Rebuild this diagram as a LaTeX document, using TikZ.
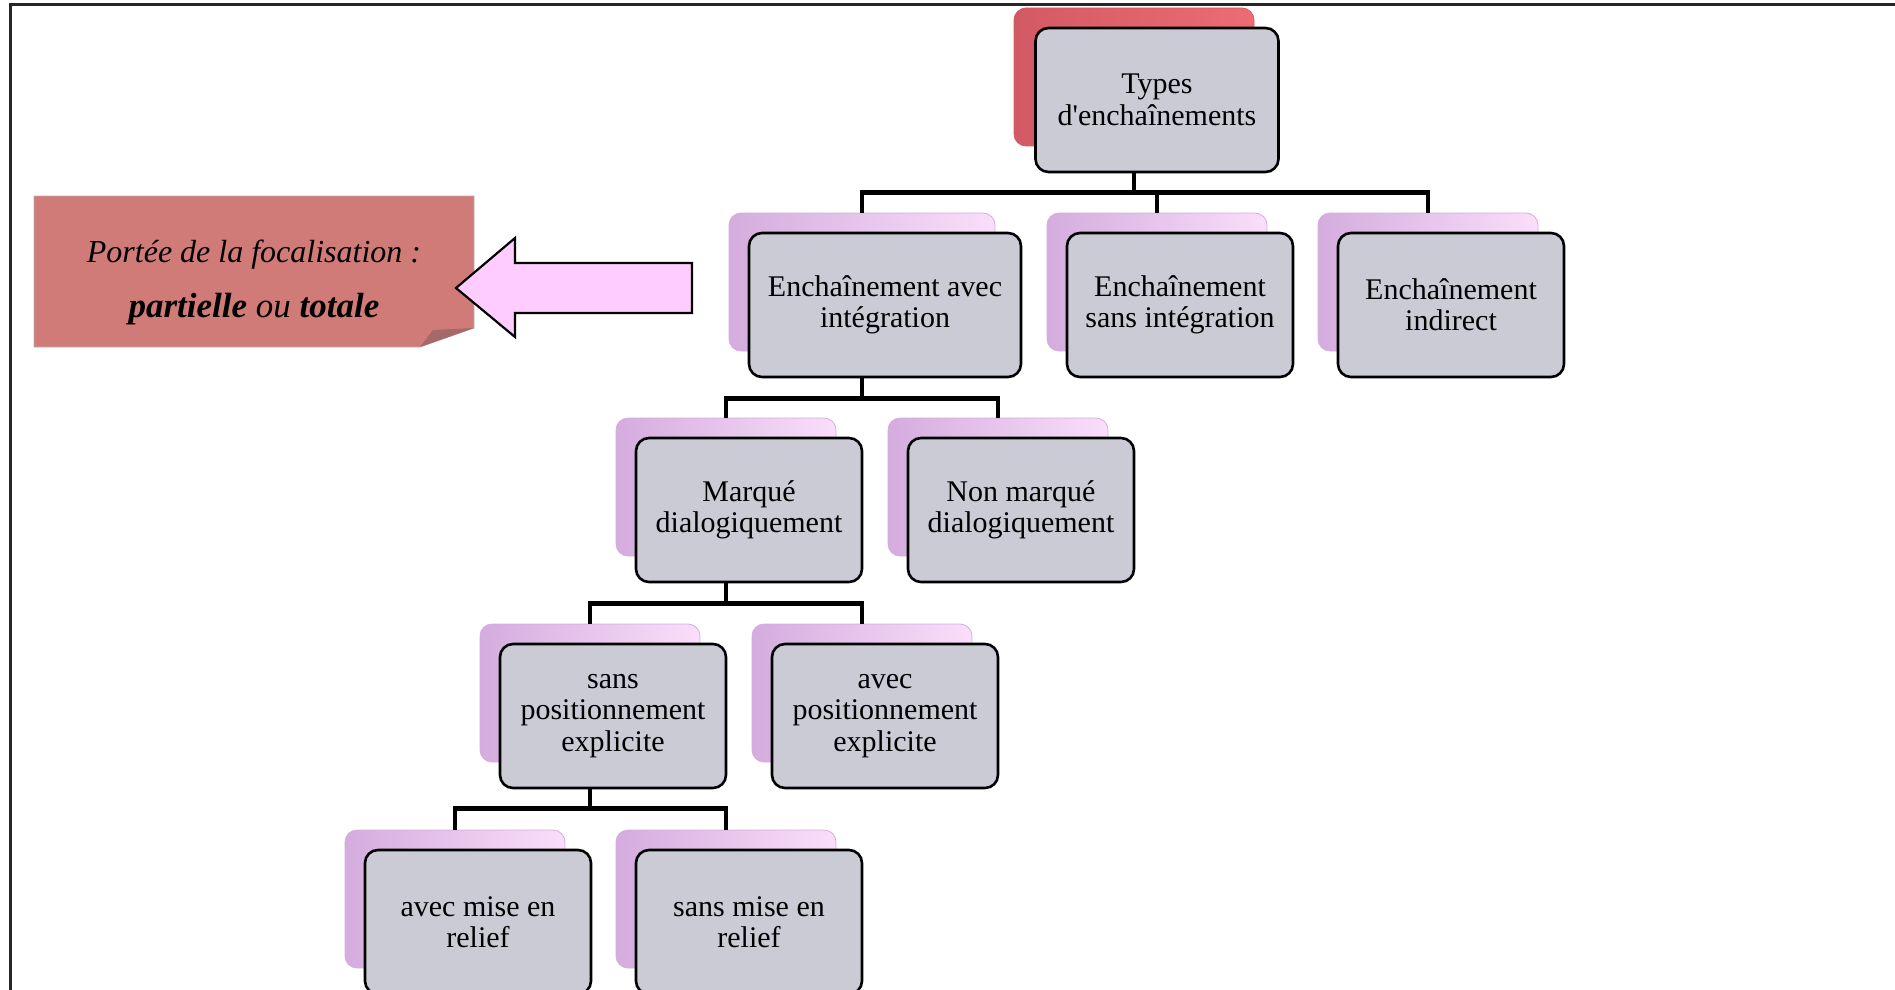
\documentclass[tikz,border=0pt]{standalone}
\usepackage{fontspec}
\setmainfont{Liberation Serif}
\usepackage{tikz}

\definecolor{boxgray}{RGB}{203,203,214}
\definecolor{pinklight}{RGB}{250,222,250}
\definecolor{pinkdark}{RGB}{212,172,222}
\definecolor{redlight}{RGB}{236,108,114}
\definecolor{reddark}{RGB}{210,90,100}
\definecolor{notered}{RGB}{208,123,120}
\definecolor{notefold}{RGB}{166,104,104}
\definecolor{arrowpink}{RGB}{255,204,255}

\begin{document}
\begin{tikzpicture}[x=0.5pt, y=-0.5pt,
    mainbox/.style={draw=black, line width=1.3pt, fill=boxgray, rounded corners=6.5pt,
      inner sep=0pt, minimum height=72pt, align=center,
      font=\fontsize{15}{15.7}\selectfont},
    backbox/.style={rounded corners=6pt, inner sep=0pt, minimum height=69pt,
      left color=pinkdark, right color=pinklight, draw=pinkdark},
    redback/.style={backbox, left color=reddark, right color=redlight, draw=reddark},
    link/.style={line width=2.25pt}]

    \useasboundingbox (0,0) rectangle (1895,990);

    \draw[line width=1.5pt, black!85] (1895,5) -- (10,5) -- (10,990);


    \fill[notered, draw=black!30, line width=0.4pt] (34,196) -- (474,196) -- (474,328) -- (420,347) -- (34,347) -- cycle;

    \fill[notefold] (420,347) -- (433,330) -- (474,328) -- cycle;

    \node[font=\fontsize{16}{27.5}\selectfont\itshape, align=center] (note) at (254,282)
      {Portée de la focalisation :\\{\fontsize{17.5}{27.5}\selectfont\textbf{partielle} ou \textbf{totale}}};

    \draw[fill=arrowpink, line width=1.1pt] (456,288) -- (515,238) -- (515,263) -- (692,263)
      -- (692,313) -- (515,313) -- (515,337) -- cycle;


    \node[redback, minimum width=120pt] (typesbg) at (1134,77) {};

    \node[mainbox, minimum width=121.5pt] (types) at (1157,100) {Types\\d\textquotesingle enchaînements};


    \node[backbox, minimum width=133pt] (integbg) at (862,282) {};

    \node[mainbox, minimum width=136pt] (integ) at (885,305) {Enchaînement avec\\intégration};

    \node[backbox, minimum width=110pt] (sansintbg) at (1157,282) {};

    \node[mainbox, minimum width=113pt] (sansint) at (1180,305) {Enchaînement\\sans intégration};

    \node[backbox, minimum width=110pt] (indirectbg) at (1428,282) {};

    \node[mainbox, minimum width=113pt] (indirect) at (1451,305) {Enchaînement\\indirect};


    \node[backbox, minimum width=110pt] (marquebg) at (726,487) {};

    \node[mainbox, minimum width=113pt] (marque) at (749,510) {Marqué\\dialogiquement};

    \node[backbox, minimum width=110pt] (nonmarquebg) at (998,487) {};

    \node[mainbox, minimum width=113pt] (nonmarque) at (1021,510) {Non marqué\\dialogiquement};


    \node[backbox, minimum width=110pt] (sansposbg) at (590,693) {};

    \node[mainbox, minimum width=113pt] (sanspos) at (613,716) {sans\\positionnement\\explicite};

    \node[backbox, minimum width=110pt] (avecposbg) at (862,693) {};

    \node[mainbox, minimum width=113pt] (avecpos) at (885,716) {avec\\positionnement\\explicite};


    \node[backbox, minimum width=110pt] (avecrelbg) at (455,899) {};

    \node[mainbox, minimum width=113pt] (avecrel) at (478,922) {avec mise en\\relief};

    \node[backbox, minimum width=110pt] (sansrelbg) at (726,899) {};

    \node[mainbox, minimum width=113pt] (sansrel) at (749,922) {sans mise en\\relief};


    \draw[link] (typesbg |- types.south) -- ++(0,19) -| (integbg.north);

    \draw[link] (typesbg |- types.south) -- ++(0,19) -| (sansintbg.north);

    \draw[link] (typesbg |- types.south) -- ++(0,19) -| (indirectbg.north);

    \draw[link] (integbg |- integ.south) -- ++(0,20) -| (marquebg.north);

    \draw[link] (integbg |- integ.south) -- ++(0,20) -| (nonmarquebg.north);

    \draw[link] (marquebg |- marque.south) -- ++(0,20) -| (sansposbg.north);

    \draw[link] (marquebg |- marque.south) -- ++(0,20) -| (avecposbg.north);

    \draw[link] (sansposbg |- sanspos.south) -- ++(0,19) -| (avecrelbg.north);

    \draw[link] (sansposbg |- sanspos.south) -- ++(0,19) -| (sansrelbg.north);

  \end{tikzpicture}
\end{document}
